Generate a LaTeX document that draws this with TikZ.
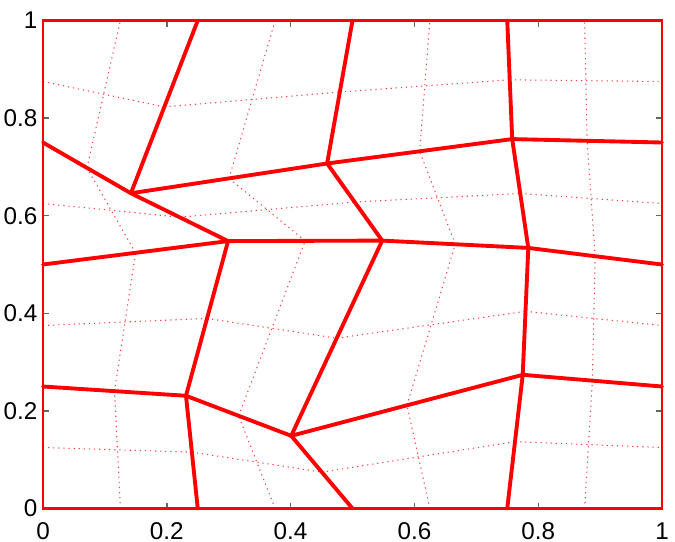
\documentclass[tikz,border=0pt]{standalone}
\usepackage{fontspec}
\setmainfont{Liberation Sans}
\usetikzlibrary{calc}
\tikzset{
  coarse/.style={red, line width=1.1pt, line join=round, line cap=round},
  fine/.style={red!75, line width=0.3pt, dash pattern=on 0.35pt off 1.1pt},
  frame/.style={red, line width=0.7pt},
  tick/.style={black!60, line width=0.4pt},
  lab/.style={inner sep=0pt, font=\fontsize{6.9pt}{8pt}\selectfont}
}
\begin{document}
\begin{tikzpicture}[x=6.19cm, y=4.88cm]
\useasboundingbox (-0.06947,-0.06660) rectangle (1.02100,1.04201);
% coarse mesh nodes
\foreach \i/\j/\x/\y in {
 0/0/0/0, 1/0/0.25/0, 2/0/0.5/0, 3/0/0.75/0, 4/0/1/0,
 0/1/0/0.25, 1/1/0.231/0.231, 2/1/0.401/0.149, 3/1/0.775/0.274, 4/1/1/0.25,
 0/2/0/0.5, 1/2/0.299/0.548, 2/2/0.548/0.549, 3/2/0.784/0.534, 4/2/1/0.5,
 0/3/0/0.75, 1/3/0.142/0.646, 2/3/0.459/0.707, 3/3/0.758/0.757, 4/3/1/0.75,
 0/4/0/1, 1/4/0.25/1, 2/4/0.5/1, 3/4/0.75/1, 4/4/1/1}
  \coordinate (n\i-\j) at (\x,\y);
% fine (refined) mesh: edge midpoints through cell centroids
\foreach \i in {0,1,2,3} {
  \foreach \j in {0,1,2,3} {
    \pgfmathtruncatemacro\ii{\i+1}
    \pgfmathtruncatemacro\jj{\j+1}
    \coordinate (c\i-\j) at ($0.25*(n\i-\j)+0.25*(n\ii-\j)+0.25*(n\i-\jj)+0.25*(n\ii-\jj)$);
    \draw[fine] ($(n\i-\j)!0.5!(n\i-\jj)$) -- (c\i-\j) -- ($(n\ii-\j)!0.5!(n\ii-\jj)$);
    \draw[fine] ($(n\i-\j)!0.5!(n\ii-\j)$) -- (c\i-\j) -- ($(n\i-\jj)!0.5!(n\ii-\jj)$);
  }
}
% coarse interior lines
\foreach \j in {1,2,3}
  \draw[coarse] (n0-\j) -- (n1-\j) -- (n2-\j) -- (n3-\j) -- (n4-\j);
\foreach \i in {1,2,3}
  \draw[coarse] (n\i-0) -- (n\i-1) -- (n\i-2) -- (n\i-3) -- (n\i-4);
% ticks
\foreach \t in {0,0.2,0.4,0.6,0.8,1} {
  \draw[tick] (\t,0) -- ++(0,0.06cm);
  \draw[tick] (\t,1) -- ++(0,-0.06cm);
  \draw[tick] (0,\t) -- ++(0.06cm,0);
  \draw[tick] (1,\t) -- ++(-0.06cm,0);
}
% frame
\draw[frame] (n0-0) -- (n4-0) -- (n4-4) -- (n0-4) -- cycle;
% labels
\foreach \t/\l in {0/0,0.2/0.2,0.4/0.4,0.6/0.6,0.8/0.8,1/1} {
  \node[lab, anchor=north] (xl\l) at ($(\t,0)+(0,-0.135cm)$) {\l};
  \node[lab, anchor=east] (yl\l) at ($(0,\t)+(-0.05cm,0)$) {\l};
}
\end{tikzpicture}
\end{document}
